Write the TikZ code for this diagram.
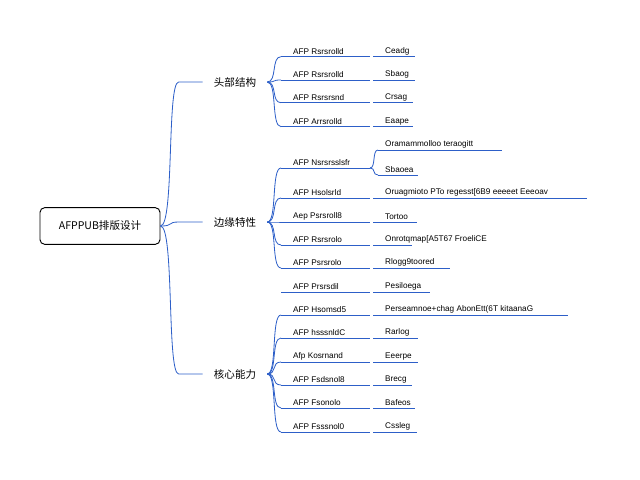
\documentclass[tikz,border=0pt]{standalone}
\usepackage{fontspec}
\setmainfont{Liberation Sans}
\newfontfamily\cjk{Noto Sans CJK SC}
\definecolor{mapblue}{RGB}{45,95,200}
\begin{document}
\begin{tikzpicture}[x=0.03cm, y=-0.03cm,
      ln/.style={draw=mapblue, line width=0.7pt},
      root/.style={rectangle, rounded corners=4pt, draw, line width=0.8pt,
                   minimum width=3.6cm, minimum height=1.1cm, font=\small\cjk},
      branch/.style={inner xsep=0.33cm, font=\small\cjk},
      key/.style={anchor=south west, inner xsep=0.36cm, inner ysep=1.5pt, font=\scriptsize},
      val/.style={anchor=south west, inner xsep=0.36cm, inner ysep=1.5pt, font=\scriptsize},
      sub/.style={anchor=south west, inner xsep=0.21cm, inner ysep=1.5pt, font=\scriptsize}
    ]
      \useasboundingbox (0,0) rectangle (640,480);

      \node[root] (root) at (100,226) {AFPPUB排版设计};

      \node[branch] (b1) at (235,82) {头部结构};
      \node[branch] (b2) at (235,222) {边缘特性};
      \node[branch] (b3) at (235,374) {核心能力};

      \foreach \b in {b1,b2,b3}
        \draw[ln] (root.east) .. controls +(14,0) and +(-12,0) .. ([xshift=-0.72cm]\b.west) -- (\b.west);

      % first branch
      \foreach \y/\k/\v/\e [count=\i] in {
          56.7/AFP Rsrsrolld/Ceadg/415,
          80/AFP Rsrsrolld/Sbaog/415,
          102.7/AFP Rsrsrsnd/Crsag/413,
          126.7/AFP Arrsrolld/Eaape/413}{
        \node[key] (k1\i) at (281,\y) {\k};
        \node[val] (v1\i) at (373,\y) {\v};
        \draw[ln] (k1\i.south west) -- ++(89,0);
        \draw[ln] (v1\i.south west) -- (\e,\y);
        \draw[ln] (b1.east) .. controls +(10,0) and +(-10,0) .. (k1\i.south west);
      }

      % second branch
      \foreach \y/\k/\v/\e [count=\i from 2] in {
          198/AFP Hsolsrld/Oruagmioto PTo regesst[6B9 eeeeet Eeeoav/587,
          222/Aep Psrsroll8/Tortoo/417,
          245/AFP Rsrsrolo/Onrotqmap[A5T67 FroeliCE/412,
          268/AFP Psrsrolo/Rlogg9toored/450}{
        \node[key] (k2\i) at (281,\y) {\k};
        \node[val] (v2\i) at (373,\y) {\v};
        \draw[ln] (k2\i.south west) -- ++(89,0);
        \draw[ln] (v2\i.south west) -- (\e,\y);
        \draw[ln] (b2.east) .. controls +(10,0) and +(-10,0) .. (k2\i.south west);
      }
      \node[key] (k21) at (281,168) {AFP Nsrsrsslsfr};
      \draw[ln] (k21.south west) -- ++(89,0) coordinate (s21);
      \draw[ln] (b2.east) .. controls +(10,0) and +(-10,0) .. (k21.south west);
      \node[sub] (s211) at (378,150) {Oramammolloo teraogitt};
      \node[sub] (s212) at (378,175) {Sbaoea};
      \draw[ln] (s211.south west) -- (502,150);
      \draw[ln] (s212.south west) -- (418,175);
      \draw[ln] (s21) .. controls +(6,0) and +(-6,0) .. (s211.south west);
      \draw[ln] (s21) .. controls +(6,0) and +(-6,0) .. (s212.south west);

      \node[key] (k27) at (281,292) {AFP Prsrsdil};
      \node[val] (v27) at (373,292) {Pesiloega};
      \draw[ln] (k27.south west) -- ++(89,0);
      \draw[ln] (v27.south west) -- (430,292);

      % third branch
      \foreach \y/\k/\v/\e [count=\i] in {
          315/AFP Hsomsd5/Perseamnoe+chag AbonEtt(6T kitaanaG/568,
          338/AFP hsssnldC/Rarlog/418,
          362/Afp Kosrnand/Eeerpe/418,
          385/AFP Fsdsnol8/Brecg/412,
          408/AFP Fsonolo/Bafeos/415,
          432/AFP Fsssnol0/Cssleg/417}{
        \node[key] (k3\i) at (281,\y) {\k};
        \node[val] (v3\i) at (373,\y) {\v};
        \draw[ln] (k3\i.south west) -- ++(89,0);
        \draw[ln] (v3\i.south west) -- (\e,\y);
        \draw[ln] (b3.east) .. controls +(10,0) and +(-10,0) .. (k3\i.south west);
      }
\end{tikzpicture}
\end{document}
